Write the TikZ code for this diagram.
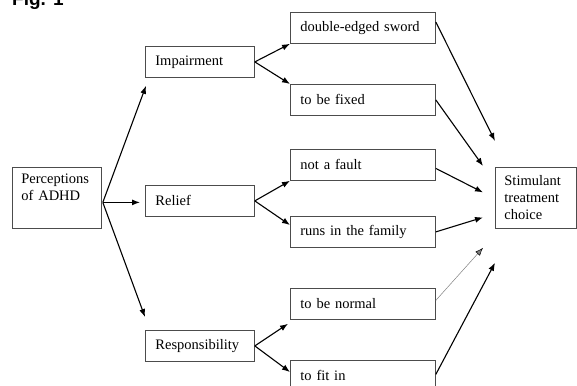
\documentclass[tikz,border=0pt]{standalone}
\usepackage{fontspec}
\setmainfont{Liberation Serif}
\newfontfamily\figfont{Liberation Sans}
\usetikzlibrary{arrows.meta}

\tikzset{
    box/.style={draw=black!70, line width=0.8pt, anchor=north west, align=left,
                inner xsep=10pt, inner ysep=0pt, minimum height=31pt,
                font=\fontsize{14.5}{17}\selectfont},
    midbox/.style={box, minimum width=109pt, text width=89pt},
    longbox/.style={box, minimum width=145pt, text width=125pt},
    endbox/.style={box, inner xsep=9pt, minimum height=61pt},
    arr/.style={line width=1.1pt, -{Latex[length=8pt,width=6pt]}},
    thinarr/.style={black!50, line width=0.5pt, -{Latex[length=8pt,width=6pt,color=black]}}
}

\begin{document}
\begin{tikzpicture}[x=1pt,y=-1pt]

\useasboundingbox (0,0) rectangle (577,385);

\node[anchor=base west, inner sep=0pt, font=\fontsize{19}{19}\selectfont\figfont\bfseries] (fig) at (12,6) {Fig. 1};

                    % start
                    \node[endbox, minimum width=89pt, text width=71pt] (perc) at (12,167) {Perceptions\\of ADHD\\\strut};

                    % perceptions
                    \node[midbox] (imp) at (145,46) {Impairment};
                    \node[midbox] (rel) at (145,185) {Relief};
                    \node[midbox] (resp) at (145,330) {Responsibility};

                    \path [arr] ([xshift=1pt,yshift=-4.5pt]perc.east) edge ([xshift=1pt,yshift=-8pt]imp.south west);
                    \path [arr] ([xshift=1pt,yshift=-4.5pt]perc.east) edge ([xshift=-5pt,yshift=-1.5pt]rel.west);
                    \path [arr] ([xshift=1pt,yshift=-4.5pt]perc.east) edge ([yshift=13pt]resp.north west);

                    % meanings
                    \node[longbox] (dbl) at (290,12) {double-edged sword};
                    \node[longbox] (fix) at (290,84) {to be fixed};
                    \node[longbox] (fault) at (290,149) {not a fault};
                    \node[longbox] (runs) at (290,216) {runs in the family};
                    \node[longbox] (normal) at (290,288) {to be normal};
                    \node[longbox] (fitin) at (290,360) {to fit in};

                    \path [arr] (imp.east) edge (dbl.south west);
                    \path [arr] (imp.east) edge (fix.north west);
                    \path [arr] (rel.east) edge (fault.south west);
                    \path [arr] (rel.east) edge ([yshift=-9pt]runs.north west);
                    \path [arr] (resp.east) edge ([xshift=-2pt,yshift=-4pt]normal.south west);
                    \path [arr] (resp.east) edge ([yshift=-12pt]fitin.north west);

                    % choice
                    \node[endbox, minimum width=81pt, text width=63pt] (stim) at (495,167) {Stimulant\\treatment\\choice};

                    \path [arr] ([yshift=-10pt]dbl.north east) edge ([yshift=26pt]stim.north west);
                    \path [arr] (fix.east) edge ([xshift=-12pt,yshift=1pt]stim.north west);
                    \path [arr] ([yshift=-3.5pt]fault.east) edge ([xshift=-12pt,yshift=5.5pt]stim.west);
                    \path [arr] (runs.east) edge ([xshift=-12pt,yshift=-19.5pt]stim.west);
                    \path [thinarr] ([yshift=3.5pt]normal.east) edge ([xshift=-12pt,yshift=-19pt]stim.south west);
                    \path [arr] ([yshift=1.5pt]fitin.east) edge ([yshift=-34pt]stim.south west);

%%%%%%%%%%%%%%%%%%%%%%%%%%%%%%%%%%%%%%%%%%%%%%%%%%%%%%%%%%%%%%%%%%%%%%%%%%%%%%%%%%%%

\end{tikzpicture}
\end{document}
